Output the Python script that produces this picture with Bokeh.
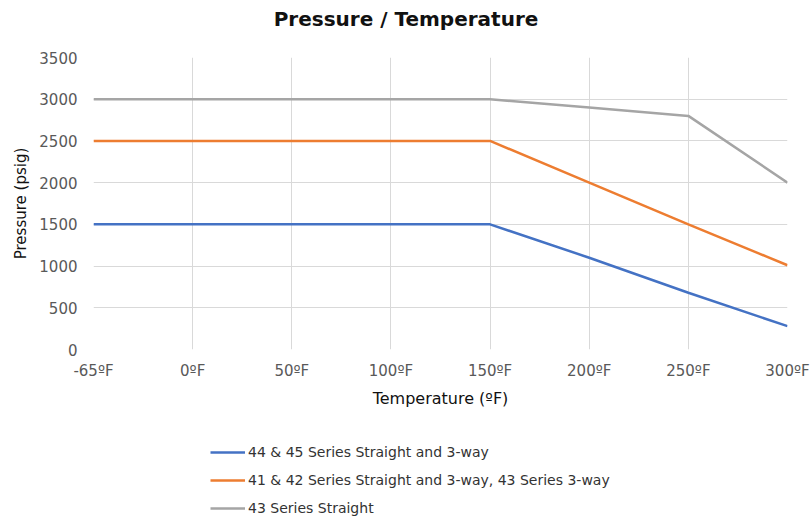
from bokeh.plotting import figure
from bokeh.layouts import column
from bokeh.models import FixedTicker, Legend, LegendItem, Range1d, Label
from bokeh.embed import file_html
from bokeh.resources import INLINE

title_text = "Pressure / Temperature"
temps = ["-65ºF", "0ºF", "50ºF", "100ºF", "150ºF", "200ºF", "250ºF", "300ºF"]
s44_45 = [1500, 1500, 1500, 1500, 1500, 1100, 680, 280]
s41_42 = [2500, 2500, 2500, 2500, 2500, 2000, 1500, 1010]
s43 = [3000, 3000, 3000, 3000, 3000, 2900, 2800, 2000]
names = ["44 & 45 Series Straight and 3-way",
         "41 & 42 Series Straight and 3-way, 43 Series 3-way",
         "43 Series Straight"]
colors = ["#4472C4", "#ED7D31", "#A5A5A5"]
y_ticks = [0, 500, 1000, 1500, 2000, 2500, 3000, 3500]

FONT = "DejaVu Sans"
xs = list(range(len(temps)))
LB, RB = 93, 24
W = 811
FRAME_W = W - LB - RB

# title strip
t = figure(width=W, height=40, output_backend="svg", toolbar_location=None,
           x_range=Range1d(0, FRAME_W), y_range=Range1d(0, 40),
           x_axis_location=None, y_axis_location=None,
           min_border_left=LB, min_border_right=RB, min_border_top=0,
           min_border_bottom=0)
t.outline_line_color = None
t.grid.visible = False
t.add_layout(Label(x=W / 2 - LB, y=22, text=title_text, text_align="center",
                   text_baseline="middle", text_font=FONT,
                   text_font_size="20px", text_font_style="bold",
                   text_color="#111111"))

# main chart
p = figure(width=W, height=375, output_backend="svg", toolbar_location=None,
           x_range=Range1d(0, len(temps) - 1), y_range=Range1d(0, 3500),
           min_border_left=LB, min_border_right=RB, min_border_top=17,
           min_border_bottom=66)

p.outline_line_color = None
p.background_fill_color = "white"

p.xaxis.ticker = FixedTicker(ticks=xs)
p.xaxis.major_label_overrides = {i: s for i, s in enumerate(temps)}
p.yaxis.ticker = FixedTicker(ticks=y_ticks)

for ax in (p.xaxis[0], p.yaxis[0]):
    ax.axis_line_color = None
    ax.major_tick_line_color = None
    ax.minor_tick_line_color = None
    ax.major_tick_out = 0
    ax.major_tick_in = 0
    ax.minor_tick_out = 0
    ax.minor_tick_in = 0
    ax.major_label_text_font = FONT
    ax.major_label_text_font_size = "15px"
    ax.major_label_text_color = "#595959"
    ax.axis_label_text_font = FONT
    ax.axis_label_text_font_style = "normal"
    ax.axis_label_text_color = "#111111"

p.xaxis.axis_label = "Temperature (ºF)"
p.yaxis.axis_label = "Pressure (psig)"
p.xaxis.axis_label_text_font_size = "16px"
p.yaxis.axis_label_text_font_size = "15px"
p.xaxis.major_label_standoff = 12
p.yaxis.major_label_standoff = 16
p.xaxis.axis_label_standoff = 6
p.yaxis.axis_label_standoff = 6

p.grid.grid_line_color = "#d9d9d9"
p.grid.grid_line_width = 1

for vals, c in zip([s44_45, s41_42, s43], colors):
    p.line(xs, vals, line_color=c, line_width=2.5)

# legend strip below the chart
q = figure(width=W, height=106, output_backend="svg", toolbar_location=None,
           x_range=Range1d(0, 1), y_range=Range1d(0, 1),
           x_axis_location=None, y_axis_location=None,
           min_border_left=LB, min_border_right=RB, min_border_top=0,
           min_border_bottom=0)
q.outline_line_color = None
q.grid.visible = False

items = []
for name, c in zip(names, colors):
    r = q.line(x=[5, 6], y=[5, 6], line_color=c, line_width=2.5)
    items.append(LegendItem(label=name, renderers=[r]))

legend = Legend(items=items, location=(210 - LB, 3), orientation="vertical",
                glyph_width=35, glyph_height=20, label_height=20,
                spacing=8, padding=0, margin=0, label_standoff=3,
                label_text_font=FONT, label_text_font_size="14px",
                label_text_color="#333333", border_line_color=None,
                background_fill_alpha=0)
q.add_layout(legend, "center")

layout = column(t, p, q, spacing=0)
open("out.html", "w").write(file_html(layout, INLINE))
